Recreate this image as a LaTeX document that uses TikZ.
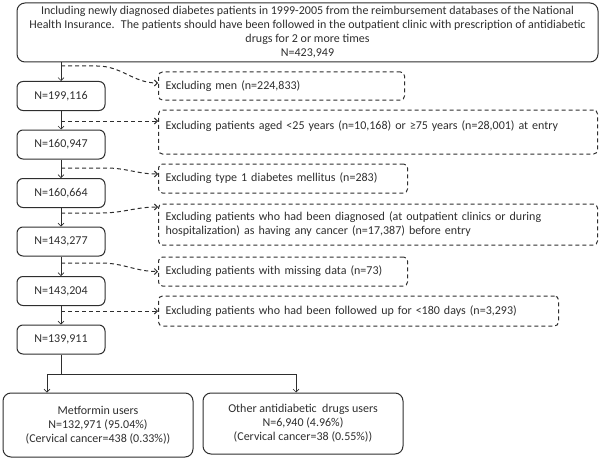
\documentclass[tikz,border=0pt]{standalone}
\usepackage{fontspec}
\setmainfont{Carlito}
\usetikzlibrary{arrows.meta,calc}

\begin{document}
\begin{tikzpicture}[x=1pt,y=-1pt,line width=1pt,color=black!82,
	font=\fontsize{12}{14}\selectfont,
	solidbox/.style={draw,rounded corners=6pt,inner sep=0pt,align=center},
	countbox/.style={solidbox,minimum width=88pt,minimum height=29pt},
	exclbox/.style={draw,dash pattern=on 4pt off 3pt,rounded corners=4pt,
		inner ysep=0pt,inner xsep=7pt,anchor=west,align=left},
	flow/.style={-{Straight Barb[length=3pt,width=6pt]},line width=0.6pt},
	side/.style={flow,dash pattern=on 4pt off 3pt,line width=1pt}]
		\useasboundingbox (0,0) rectangle (600,460);
		% cohort
		\node[solidbox,rounded corners=8pt,minimum width=581pt,minimum height=59pt]
			(incl) at (307.5,32.5) {Including newly diagnosed diabetes patients in 1999-2005 from the reimbursement databases of the National\\
			Health Insurance.~ The patients should have been followed in the outpatient clinic with prescription of antidiabetic\\
			drugs for 2 or more times\\
			N=423,949};
		\node[countbox] (n1) at (61,96) {N=199,116};
		\node[countbox] (n2) at (61,144.5) {N=160,947};
		\node[countbox] (n3) at (61,193) {N=160,664};
		\node[countbox] (n4) at (61,241.5) {N=143,277};
		\node[countbox] (n5) at (61,291) {N=143,204};
		\node[countbox] (n6) at (61,339.5) {N=139,911};
		% exclusions
		\node[exclbox,text width=232pt,minimum height=28pt] (e1) at (158,86)
			{Excluding men (n=224,833)};
		\node[exclbox,text width=425pt,minimum height=44pt] (e2) at (158,132)
			{Excluding patients aged <25 years (n=10,168) or \char"2265 75 years (n=28,001) at entry\\ \mbox{}};
		\node[exclbox,text width=235pt,minimum height=29pt] (e3) at (158,178.5)
			{Excluding type 1 diabetes mellitus (n=283)};
		\node[exclbox,text width=425pt,minimum height=41pt] (e4) at (158,224.5)
			{Excluding patients who had been diagnosed (at outpatient clinics or during\\
			hospitalization) as having any cancer (n=17,387) before entry};
		\node[exclbox,text width=235pt,minimum height=29pt] (e5) at (158,271.5)
			{Excluding patients with missing data (n=73)};
		\node[exclbox,text width=386pt,minimum height=30pt] (e6) at (158,311)
			{Excluding patients who had been followed up for <180 days (n=3,293)};
		% groups
		\node[solidbox,rounded corners=8pt,minimum width=190pt,minimum height=64pt]
			(met) at (98,425) {Metformin users\\N=132,971 (95.04\%)\\(Cervical cancer=438 (0.33\%))};
		\node[solidbox,rounded corners=8pt,minimum width=200pt,minimum height=61pt]
			(oth) at (303,423.5) {Other antidiabetic~ drugs users\\N=6,940 (4.96\%)\\(Cervical cancer=38 (0.55\%))};

		\draw[flow] (incl.south -| n1) -- (n1);
		\draw[flow] (n1) -- (n2);
		\draw[flow] (n2) -- (n3);
		\draw[flow] (n3) -- (n4);
		\draw[flow] (n4) -- (n5);
		\draw[flow] (n5) -- (n6);

		\coordinate (s1) at (61,66);
		\coordinate (s2) at (61,121);
		\coordinate (s3) at (61,168);
		\coordinate (s4) at (61,213);
		\coordinate (s5) at (61,263);
		\coordinate (s6) at (61,311);
		\draw[side] (s1) -- ++(36,0) to[out=0,in=180] ([yshift=3pt]e1.west);
		\draw[side] (s2) -- (s2 -| e2.west);
		\draw[side] (s3) -- ++(45,0) to[out=0,in=180] ([yshift=4.5pt]e3.west);
		\draw[side] (s4) -- ++(40,0) to[out=0,in=180] ([yshift=17.5pt]e4.west);
		\draw[side] (s5) -- ++(40,0) to[out=0,in=180] (e5.west);
		\draw[side] (s6) -- (e6.west);

		\coordinate (split) at (61,374);
		\coordinate (bl) at (47,374);
		\coordinate (br) at (296,374);
		\draw (n6) -- (split);
		\draw (bl) -- (br);
		\draw[flow] (bl) -- (bl |- met.north);
		\draw[flow] (br) -- (br |- oth.north);
\end{tikzpicture}
\end{document}
